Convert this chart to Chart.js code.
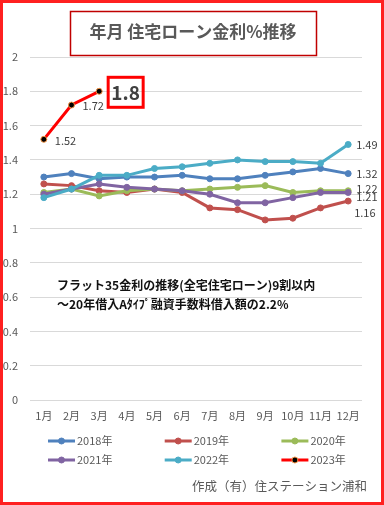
<!DOCTYPE html>
<html>
<head>
<meta charset="utf-8">
<script src="https://cdn.jsdelivr.net/npm/chart.js@4"></script>
<style>
  html, body { margin: 0; padding: 0; background: #fff; }
</style>
</head>
<body>
<canvas id="myChart" width="384" height="505"></canvas>
<script>
// chart data
const months = ['1月', '2月', '3月', '4月', '5月', '6月', '7月', '8月', '9月', '10月', '11月', '12月'];
const yearLabels = ['2018年', '2019年', '2020年', '2021年', '2022年', '2023年'];
const rates2018 = [1.30, 1.32, 1.29, 1.30, 1.30, 1.31, 1.29, 1.29, 1.31, 1.33, 1.35, 1.32];
const rates2019 = [1.26, 1.25, 1.22, 1.21, 1.23, 1.21, 1.12, 1.11, 1.05, 1.06, 1.12, 1.16];
const rates2020 = [1.21, 1.23, 1.19, 1.22, 1.23, 1.22, 1.23, 1.24, 1.25, 1.21, 1.22, 1.22];
const rates2021 = [1.20, 1.23, 1.26, 1.24, 1.23, 1.22, 1.20, 1.15, 1.15, 1.18, 1.21, 1.21];
const rates2022 = [1.18, 1.23, 1.31, 1.31, 1.35, 1.36, 1.38, 1.40, 1.39, 1.39, 1.38, 1.49];
const rates2023 = [1.52, 1.72, 1.8];
const yTicks = [0, 0.2, 0.4, 0.6, 0.8, 1, 1.2, 1.4, 1.6, 1.8, 2];

const titleText = '年月 住宅ローン金利%推移';
const noteLines = ['フラット35金利の推移(全宅住宅ローン)9割以内', '～20年借入Aﾀｲﾌﾟ融資手数料借入額の2.2%'];
const footerText = '作成（有）住ステーション浦和';

const FONT = '"Noto Sans CJK JP", "Noto Sans", sans-serif';
const seriesColors = ['#4F81BD', '#C0504D', '#9BBB59', '#8064A2', '#4BACC6', '#FF0000'];
const allRates = [rates2018, rates2019, rates2020, rates2021, rates2022, rates2023];

const datasets = allRates.map((rates, i) => {
  const is2023 = i === 5;
  return {
    label: yearLabels[i],
    data: rates,
    borderColor: seriesColors[i],
    backgroundColor: is2023 ? '#000000' : seriesColors[i],
    pointBackgroundColor: is2023 ? '#000000' : seriesColors[i],
    pointBorderColor: is2023 ? '#F79646' : seriesColors[i],
    pointBorderWidth: 1,
    pointRadius: 3,
    borderWidth: 3,
    tension: 0,
    order: 6 - i
  };
});

// draws frame, title, notes, value labels and legend
const decorPlugin = {
  id: 'decor',
  afterDraw(chart) {
    const c = chart.ctx;
    c.save();

    // outer frame
    c.strokeStyle = '#FF2020';
    c.lineWidth = 3;
    c.strokeRect(1.5, 1.5, 381, 502);

    // title box
    c.strokeStyle = '#C00000';
    c.lineWidth = 1.5;
    c.strokeRect(70.5, 11.5, 246, 44);
    c.fillStyle = '#595959';
    c.font = 'bold 17px ' + FONT;
    c.textAlign = 'center';
    c.textBaseline = 'middle';
    c.fillText(titleText, 193, 32);

    // note text
    c.fillStyle = '#111111';
    c.font = 'bold 12px ' + FONT;
    c.textAlign = 'left';
    c.fillText(noteLines[0], 57, 285, 261);
    c.fillText(noteLines[1], 57, 304, 239);

    // 2023 labels
    const m23 = chart.getDatasetMeta(5).data;
    c.fillStyle = '#404040';
    c.font = '11px ' + FONT;
    c.fillText(rates2023[0].toFixed(2), m23[0].x + 11, m23[0].y + 1);
    c.fillText(rates2023[1].toFixed(2), m23[1].x + 11, m23[1].y + 1);
    const p = m23[2];
    c.strokeStyle = '#FF0000';
    c.lineWidth = 3;
    c.strokeRect(p.x + 9, p.y - 14, 35, 30);
    c.font = 'bold 19px ' + FONT;
    c.textAlign = 'center';
    c.fillText(String(rates2023[2]), p.x + 26.5, p.y + 1);

    // end labels
    const endOffsets = [[8, 0], [6, 12], [8, -2], [8, 4], [8, 0]];
    c.font = '11px ' + FONT;
    c.textAlign = 'left';
    for (let i = 0; i < 5; i++) {
      const pts = chart.getDatasetMeta(i).data;
      const last = pts[pts.length - 1];
      const v = allRates[i][allRates[i].length - 1];
      c.fillText(v.toFixed(2), last.x + endOffsets[i][0], last.y + endOffsets[i][1]);
    }

    // legend
    c.font = '11px ' + FONT;
    datasets.forEach((ds, i) => {
      const x0 = 48 + (i % 3) * 116.7;
      const y0 = 441 + Math.floor(i / 3) * 19;
      c.strokeStyle = ds.borderColor;
      c.lineWidth = 3;
      c.beginPath();
      c.moveTo(x0, y0);
      c.lineTo(x0 + 27, y0);
      c.stroke();
      c.beginPath();
      c.arc(x0 + 13.5, y0, 3, 0, Math.PI * 2);
      c.fillStyle = ds.pointBackgroundColor;
      c.fill();
      c.lineWidth = 1;
      c.strokeStyle = ds.pointBorderColor;
      c.stroke();
      c.fillStyle = '#595959';
      c.textAlign = 'left';
      c.fillText(ds.label, x0 + 29, y0);
    });

    // footer
    c.fillStyle = '#595959';
    c.font = '12.5px ' + FONT;
    c.textAlign = 'right';
    c.fillText(footerText, 367, 486);

    c.restore();
  }
};

const ctx = document.getElementById('myChart').getContext('2d');
const chart = new Chart(ctx, {
  type: 'line',
  data: {
    labels: months,
    datasets: datasets
  },
  options: {
    responsive: false,
    animation: false,
    layout: { padding: { left: 3, right: 22, top: 57, bottom: 0 } },
    plugins: {
      legend: { display: false },
      tooltip: { enabled: false }
    },
    scales: {
      x: {
        offset: true,
        grid: { display: false, drawTicks: false },
        border: { display: false },
        ticks: { color: '#595959', font: { size: 11, family: FONT }, padding: 9, maxRotation: 0, autoSkip: false },
        afterFit: s => { s.height = 105; }
      },
      y: {
        min: yTicks[0],
        max: yTicks[yTicks.length - 1],
        afterBuildTicks: s => { s.ticks = yTicks.map(v => ({ value: v })); },
        ticks: {
          color: '#595959',
          font: { size: 11, family: FONT },
          padding: 12,
          callback: v => String(+Number(v).toFixed(1))
        },
        grid: { color: '#D9D9D9', drawTicks: false },
        border: { display: false },
        afterFit: s => { s.width = 27; }
      }
    }
  },
  plugins: [decorPlugin]
});
</script>
</body>
</html>
